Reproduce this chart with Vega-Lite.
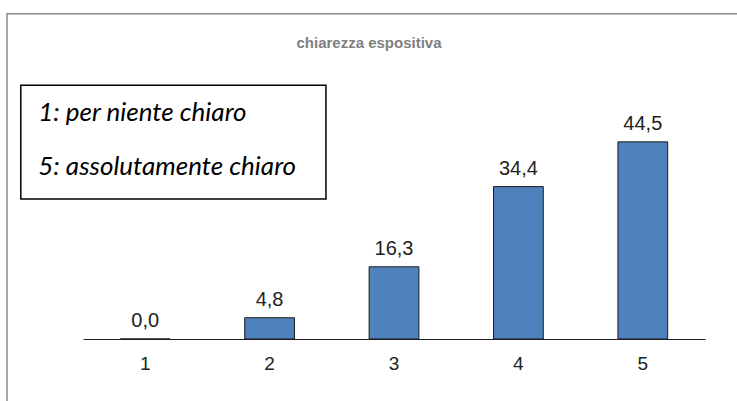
{
  "$schema": "https://vega.github.io/schema/vega-lite/v6.json",
  "autosize": "none",
  "width": 622,
  "height": 221.5,
  "padding": {"left": 83, "top": 117.5, "right": 32, "bottom": 62},
  "background": "white",
  "config": {
    "view": {"stroke": null},
    "locale": {"number": {"decimal": ",", "thousands": ".", "grouping": [3], "currency": ["€", ""]}}
  },
  "title": {
    "text": "chiarezza espositiva",
    "font": "Liberation Sans",
    "fontSize": 15,
    "fontWeight": "bold",
    "color": "#7f7f7f",
    "anchor": "middle",
    "baseline": "alphabetic",
    "dx": -25,
    "offset": -50
  },
  "layer": [
    {
      "data": {"values": [
        {"voto": "1", "perc": 0.0},
        {"voto": "2", "perc": 4.8},
        {"voto": "3", "perc": 16.3},
        {"voto": "4", "perc": 34.4},
        {"voto": "5", "perc": 44.5}
      ]},
      "layer": [
        {
          "mark": {"type": "bar", "color": "#4f81bd", "stroke": "#1a1a1a", "strokeWidth": 1},
          "encoding": {
            "x": {"field": "voto", "type": "nominal", "sort": null,
              "scale": {"paddingInner": 0.6, "paddingOuter": 0.3},
              "axis": {"title": null, "labelAngle": 0, "ticks": false, "domainColor": "#222", "domainWidth": 1.2,
                "labelFont": "Liberation Sans", "labelFontSize": 19, "labelColor": "#222", "labelPadding": 15, "grid": false}},
            "y": {"field": "perc", "type": "quantitative", "scale": {"domain": [0, 50]}, "axis": null}
          }
        },
        {
          "mark": {"type": "text", "font": "Liberation Sans", "fontSize": 20, "color": "#222", "baseline": "alphabetic", "dy": -12},
          "encoding": {
            "x": {"field": "voto", "type": "nominal", "sort": null},
            "y": {"field": "perc", "type": "quantitative"},
            "text": {"field": "perc", "type": "quantitative", "format": ".1f"}
          }
        }
      ]
    },
    {
      "data": {"values": [
        {"kind": "frame", "x1": -0.111, "x2": 5.8, "y1": 73.4, "y2": -20},
        {"kind": "box", "x1": 0.0, "x2": 2.453, "y1": 57.3, "y2": 31.6}
      ]},
      "mark": {"type": "rect", "fill": null, "clip": false},
      "encoding": {
        "x": {"field": "x1", "type": "quantitative", "scale": {"domain": [0.5, 5.5], "nice": false, "zero": false}, "axis": null},
        "x2": {"field": "x2"},
        "y": {"field": "y1", "type": "quantitative"},
        "y2": {"field": "y2"},
        "stroke": {"field": "kind", "type": "nominal", "scale": {"domain": ["frame", "box"], "range": ["#8a8a8a", "#000000"]}, "legend": null},
        "strokeWidth": {"field": "kind", "type": "nominal", "scale": {"domain": ["frame", "box"], "range": [1.5, 1.5]}, "legend": null}
      }
    },
    {
      "data": {"values": [
        {"t": "1: per niente chiaro", "x": 0.14, "y": 49.3},
        {"t": "5: assolutamente chiaro", "x": 0.14, "y": 37.0}
      ]},
      "mark": {"type": "text", "font": "Lato", "fontStyle": "italic", "fontSize": 26, "color": "#000", "align": "left", "baseline": "alphabetic"},
      "encoding": {
        "x": {"field": "x", "type": "quantitative", "scale": {"domain": [0.5, 5.5], "nice": false, "zero": false}, "axis": null},
        "y": {"field": "y", "type": "quantitative"},
        "text": {"field": "t"}
      }
    }
  ],
  "resolve": {"scale": {"x": "independent"}}
}
